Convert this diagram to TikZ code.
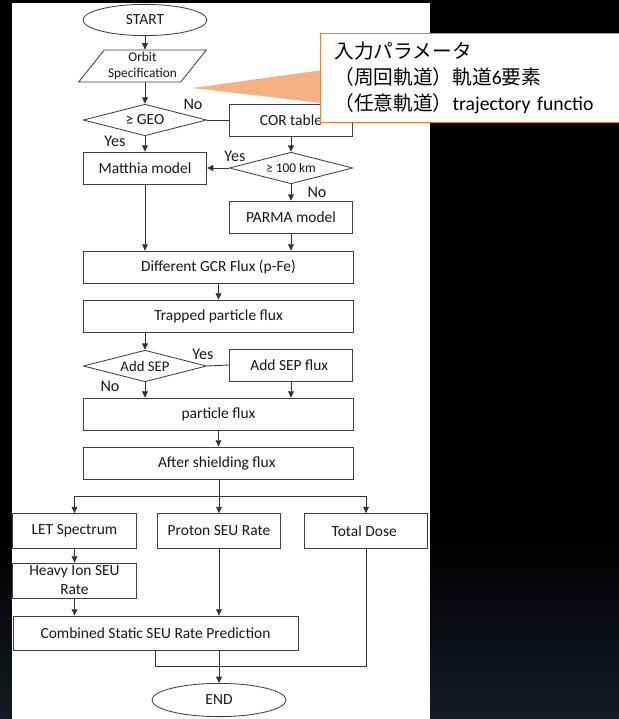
\documentclass[tikz,border=0pt]{standalone}
\usepackage{fontspec}
\setmainfont{Carlito}
\newfontfamily\jpfont{Noto Sans CJK JP}
\usetikzlibrary{shapes.geometric,arrows.meta}
\definecolor{bgblue}{HTML}{3D4B69}
\definecolor{calloutline}{HTML}{ED7D31}
\definecolor{wedgefill}{HTML}{F4B183}
\pgfdeclareverticalshading{bgfade}{100bp}{color(0bp)=(bgblue); color(38bp)=(black); color(100bp)=(black)}

\begin{document}
\begin{tikzpicture}[x=0.025cm, y=-0.025cm,
		box/.style={rectangle, draw=black!75, fill=white, inner sep=1pt, minimum height=0.8cm, align=center, font=\fontsize{11}{13.5}\selectfont},
		dia/.style={diamond, draw=black!75, fill=white, inner sep=0pt, aspect=3.9, minimum width=3.08cm, minimum height=0.79cm, font=\fontsize{11}{13}\selectfont},
		oval/.style={ellipse, draw=black!75, fill=white, inner sep=0pt, font=\fontsize{11}{13}\selectfont},
		lbl/.style={inner sep=0pt, font=\fontsize{11.5}{13}\selectfont},
		arr/.style={-{Triangle[length=4.5pt,width=4.2pt]}}
	]
		 \useasboundingbox (0,0) rectangle (619,719);
		 \shade[shading=bgfade] (0,0) rectangle (619,719);
		 \fill[white] (12,3) rectangle (430,719);
		 \begin{scope}[draw=black!80, line width=0.6pt, text=black!90]
		 \node[oval, minimum width=3.1cm, minimum height=0.78cm] (start) at (145,20) {START};
		 \node[trapezium, trapezium left angle=50, trapezium right angle=130, trapezium stretches, draw=black!75, fill=white, inner sep=0pt, minimum width=3.2cm, minimum height=0.8cm, align=center, font=\fontsize{9.5}{11.4}\selectfont] (orbit) at (142.5,66) {Orbit\\Specification};
		 \node[dia] (geo) at (145,120) {≥ GEO};
		 \node[dia, font=\fontsize{9.5}{11}\selectfont] (km) at (291,168) {≥ 100 km};
		 \node[dia, font=\fontsize{10.5}{12}\selectfont] (sep) at (145,366) {Add SEP};
		 \foreach \x /\y /\nm/\txt in {
			291/120/cor/COR table,
			145/168/matthia/Matthia model,
			291/217/parma/PARMA model,
			291/365/sepflux/Add SEP flux
		 }{
		 	\node[box, minimum width=3.08cm] (\nm) at (\x,\y) {\txt};
		 }
		 \foreach \y /\nm/\txt in {
			267/gcr/Different GCR Flux (p-Fe),
			316/trap/Trapped particle flux,
			414/pflux/particle flux,
			463/shield/After shielding flux
		 }{
		 	\node[box, minimum width=6.75cm] (\nm) at (218.5,\y) {\txt};
		 }
		 \foreach \x /\nm/\txt in {
			74.5/let/LET Spectrum,
			219/proton/Proton SEU Rate,
			366/dose/Total Dose
		 }{
		 	\node[box, minimum width=3.08cm, minimum height=0.875cm] (\nm) at (\x,531) {\txt};
		 }
		 \node[box, minimum width=3.08cm, minimum height=0.875cm] (heavy) at (74.5,580.5) {Heavy Ion SEU\\Rate};
		 \node[box, minimum width=7.12cm, minimum height=0.85cm] (comb) at (155.5,633) {Combined Static SEU Rate Prediction};
		 \node[oval, minimum width=3.35cm, minimum height=0.83cm] (end) at (219,700) {END};
		 \foreach \x /\y /\nm/\txt in {
			193/104/nogeo/No,
			115/141/yesgeo/Yes,
			235/156/yeskm/Yes,
			317/192/nokm/No,
			203/354/yessep/Yes,
			110/386/nosep/No
		 }{
		 	\node[lbl] (\nm) at (\x,\y) {\txt};
		 }
		 \coordinate (split) at (219,496);
		 \coordinate (join) at (219,666);
		 \draw[arr] (start) -- (start |- orbit.north);
		 \draw[arr] (orbit.south -| geo) -- (geo);
		 \draw[arr] (geo) -- (matthia);
		 \draw (geo.east) -- (cor.west);
		 \draw[arr] (cor) -- (km);
		 \draw[arr] (km) -- (matthia);
		 \draw[arr] (km) -- (parma);
		 \draw[arr] (matthia) -- (matthia |- gcr.north);
		 \draw[arr] (parma) -- (parma |- gcr.north);
		 \draw[arr] (gcr) -- (trap);
		 \draw[arr] (trap.south -| sep) -- (sep);
		 \draw (sep.east) -- (sepflux.west);
		 \draw[arr] (sep) -- (sep |- pflux.north);
		 \draw[arr] (sepflux) -- (sepflux |- pflux.north);
		 \draw[arr] (pflux) -- (shield);
		 \draw[arr] (shield.south -| proton) -- (proton);
		 \draw (let |- split) -- (dose |- split);
		 \foreach \b in {let, dose}
		 {\draw[arr] (\b |- split) -- (\b);}
		 \draw[arr] (let) -- (heavy);
		 \draw[arr] (heavy) -- (heavy |- comb.north);
		 \draw[arr] (proton) -- (proton |- comb.north);
		 \draw[arr] (comb.south -| end) -- (end);
		 \draw (comb.south) |- (join);
		 \draw (dose) |- (join);
		 \end{scope}
		 \coordinate (tip) at (193,88);
		 \fill[wedgefill] (tip) -- (330,69) -- (330,104) -- cycle;
		 \node[draw=calloutline, line width=0.7pt, fill=white, anchor=north west, minimum width=8.6cm, minimum height=2.225cm, text width=7.9cm, inner xsep=0.325cm, align=left, font=\fontsize{14}{18.5}\selectfont] (param) at (320,33) {{\jpfont 入力パラメータ}\\{\jpfont （周回軌道）軌道}6{\jpfont 要素}\\{\jpfont （任意軌道）}trajectory functio};
\end{tikzpicture}
\end{document}
